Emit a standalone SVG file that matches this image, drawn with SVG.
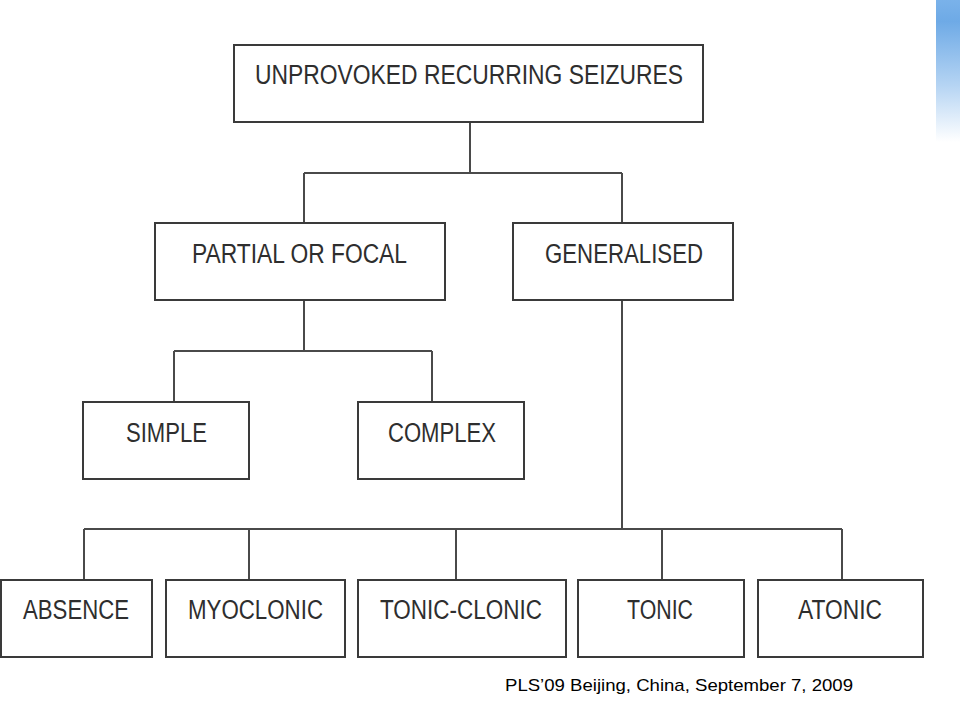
<svg xmlns="http://www.w3.org/2000/svg" width="960" height="720" viewBox="0 0 960 720">
<style>
.box{fill:#fff;stroke:#3a3a3a;stroke-width:2}
.lbl{font-family:"Liberation Sans",Arial,sans-serif;font-size:27px;fill:#2e2e2e;text-anchor:start}
.conn{fill:none;stroke:#4a4a4a;stroke-width:2}
.foot{font-family:"Liberation Sans",Arial,sans-serif;font-size:17px;fill:#000}
</style>
<defs>
<linearGradient id="bluebar" x1="0" y1="0" x2="0" y2="1">
<stop offset="0" stop-color="#7ab2ea"/>
<stop offset="0.15" stop-color="#6eaae6"/>
<stop offset="0.6" stop-color="#b5d4f3"/>
<stop offset="1" stop-color="#ffffff"/>
</linearGradient>
</defs>
<rect width="960" height="720" fill="#fff"/>
<rect x="936" y="0" width="24" height="142" fill="url(#bluebar)"/>
<g id="connectors">
<path class="conn" d="M470 122V173M304 173H622M304 173V223M622 173V223"/>
<path class="conn" d="M304 300V351M174 351H432M174 351V402M432 351V402"/>
<path class="conn" d="M622 300V529M84 529H842M84 529V580M249 529V580M456 529V580M662 529V580M842 529V580"/>
</g>
<g id="n-root"><rect class="box" x="234" y="45" width="469" height="77"/><text class="lbl" x="255" y="84" textLength="428" lengthAdjust="spacingAndGlyphs">UNPROVOKED RECURRING SEIZURES</text></g>
<g id="n-partial"><rect class="box" x="155" y="223" width="290" height="77"/><text class="lbl" x="192" y="263" textLength="215" lengthAdjust="spacingAndGlyphs">PARTIAL OR FOCAL</text></g>
<g id="n-generalised"><rect class="box" x="513" y="223" width="220" height="77"/><text class="lbl" x="545" y="263" textLength="158" lengthAdjust="spacingAndGlyphs">GENERALISED</text></g>
<g id="n-simple"><rect class="box" x="83" y="402" width="166" height="77"/><text class="lbl" x="126" y="442" textLength="81" lengthAdjust="spacingAndGlyphs">SIMPLE</text></g>
<g id="n-complex"><rect class="box" x="358" y="402" width="166" height="77"/><text class="lbl" x="388" y="442" textLength="108" lengthAdjust="spacingAndGlyphs">COMPLEX</text></g>
<g id="n-absence"><rect class="box" x="1" y="580" width="151" height="77"/><text class="lbl" x="23" y="619" textLength="106" lengthAdjust="spacingAndGlyphs">ABSENCE</text></g>
<g id="n-myoclonic"><rect class="box" x="166" y="580" width="179" height="77"/><text class="lbl" x="188" y="619" textLength="135" lengthAdjust="spacingAndGlyphs">MYOCLONIC</text></g>
<g id="n-tonicclonic"><rect class="box" x="358" y="580" width="208" height="77"/><text class="lbl" x="380" y="619" textLength="162" lengthAdjust="spacingAndGlyphs">TONIC-CLONIC</text></g>
<g id="n-tonic"><rect class="box" x="578" y="580" width="166" height="77"/><text class="lbl" x="627" y="619" textLength="66" lengthAdjust="spacingAndGlyphs">TONIC</text></g>
<g id="n-atonic"><rect class="box" x="758" y="580" width="165" height="77"/><text class="lbl" x="798" y="619" textLength="84" lengthAdjust="spacingAndGlyphs">ATONIC</text></g>
<text class="foot" x="505" y="691" textLength="348" lengthAdjust="spacingAndGlyphs">PLS’09 Beijing, China, September 7, 2009</text>
</svg>
